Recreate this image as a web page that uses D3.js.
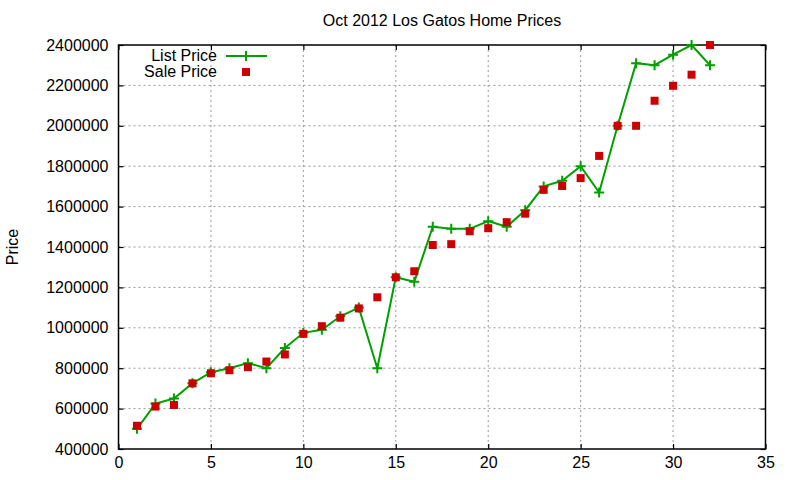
<!DOCTYPE html>
<html>
<head>
<meta charset="utf-8">
<script src="https://cdn.jsdelivr.net/npm/d3@7"></script>
<style>
  body { margin: 0; background: #fff; }
  text { font-family: "Liberation Sans", Arial, sans-serif; fill: #000; }
</style>
</head>
<body>
<div class="container"></div>
<script>
// values
let houses = d3.range(1, 33)
let listPrice = [500000, 625000, 650000, 725000, 780000, 800000, 825000, 800000, 900000, 975000,
                 990000, 1057000, 1100000, 800000, 1250000, 1228000, 1500000, 1490000, 1490000, 1528000,
                 1500000, 1582000, 1700000, 1728000, 1800000, 1670000, 2000000, 2310000, 2300000, 2352000,
                 2400000, 2300000]
let salePrice = [515000, 610000, 618000, 725000, 775000, 790000, 805000, 833000, 868000, 970000,
                 1008000, 1050000, 1096000, 1151000, 1250000, 1280000, 1410000, 1414000, 1478000, 1493000,
                 1523000, 1565000, 1683000, 1702000, 1741000, 1851000, 2000000, 2000000, 2124000, 2198000,
                 2253000, 2400000]
let xTicks = [0, 5, 10, 15, 20, 25, 30, 35]
let yTicks = [400000, 600000, 800000, 1000000, 1200000, 1400000, 1600000, 1800000, 2000000, 2200000, 2400000]

const width = 800
const height = 480
const mLeft = 118.5, mRight = 765.5, mTop = 45, mBottom = 449
const green = "#00a000"
const red = "#cc0000"

const x = d3.scaleLinear().domain([0, 35]).range([mLeft, mRight])
const y = d3.scaleLinear().domain([400000, 2400000]).range([mBottom, mTop])

const svg = d3.select(".container").append("svg")
    .attr("width", width)
    .attr("height", height)

// grid
svg.append("g")
    .selectAll("line")
    .data(xTicks.slice(1, -1))
    .enter()
    .append("line")
    .attr("x1", d => x(d)).attr("x2", d => x(d))
    .attr("y1", mTop).attr("y2", mBottom)
    .attr("stroke", "#999").attr("stroke-dasharray", "2,3")

svg.append("g")
    .selectAll("line")
    .data(yTicks.slice(1, -1))
    .enter()
    .append("line")
    .attr("x1", mLeft).attr("x2", mRight)
    .attr("y1", d => y(d)).attr("y2", d => y(d))
    .attr("stroke", "#999").attr("stroke-dasharray", "2,3")

// axes, ticks pointing inward like gnuplot
svg.append("g")
    .attr("id", "x-axis")
    .attr("transform", `translate(0,${mBottom})`)
    .call(d3.axisBottom(x).tickValues(xTicks).tickSize(-5).tickPadding(8).tickFormat(d3.format("d")))
svg.append("g")
    .attr("transform", `translate(0,${mTop})`)
    .call(d3.axisTop(x).tickValues(xTicks).tickSize(-5).tickFormat(""))
svg.append("g")
    .attr("id", "y-axis")
    .attr("transform", `translate(${mLeft},0)`)
    .call(d3.axisLeft(y).tickValues(yTicks).tickSize(-5).tickPadding(10).tickFormat(d3.format("d")))
svg.append("g")
    .attr("transform", `translate(${mRight},0)`)
    .call(d3.axisRight(y).tickValues(yTicks).tickSize(-5).tickFormat(""))

svg.selectAll(".domain").remove()
svg.selectAll(".tick line").attr("stroke", "#000").attr("stroke-width", 1.2)
svg.selectAll(".tick text").style("font-size", "16px").style("font-family", "Liberation Sans, Arial, sans-serif")

svg.append("rect")
    .attr("x", mLeft).attr("y", mTop)
    .attr("width", mRight - mLeft).attr("height", mBottom - mTop)
    .attr("fill", "none").attr("stroke", "#000").attr("stroke-width", 1.5)

// list price line
const line = d3.line()
    .x((d, i) => x(houses[i]))
    .y(d => y(d))

svg.append("path")
    .datum(listPrice)
    .attr("d", line)
    .attr("fill", "none")
    .attr("stroke", green)
    .attr("stroke-width", 2)

svg.selectAll(".plus")
    .data(listPrice)
    .enter()
    .append("path")
    .attr("class", "plus")
    .attr("d", "M-5,0H5M0,-5V5")
    .attr("transform", (d, i) => `translate(${x(houses[i])},${y(d)})`)
    .attr("stroke", green)
    .attr("stroke-width", 2)

// sale price squares
svg.selectAll(".sq")
    .data(salePrice)
    .enter()
    .append("rect")
    .attr("class", "sq")
    .attr("x", (d, i) => x(houses[i]) - 4)
    .attr("y", d => y(d) - 4)
    .attr("width", 8).attr("height", 8)
    .attr("fill", red)

// title and label
svg.append("text")
    .attr("x", (mLeft + mRight) / 2).attr("y", 26)
    .attr("text-anchor", "middle")
    .style("font-size", "16px")
    .text("Oct 2012 Los Gatos Home Prices")

svg.append("text")
    .attr("transform", "translate(18,247) rotate(-90)")
    .attr("text-anchor", "middle")
    .style("font-size", "16px")
    .text("Price")

// legend
const legend = svg.append("g")
legend.append("text").attr("x", 217).attr("y", 61).attr("text-anchor", "end")
    .style("font-size", "16px").text("List Price")
legend.append("path").attr("d", "M226,56H267M246,51V61").attr("stroke", green).attr("stroke-width", 2)
legend.append("text").attr("x", 217).attr("y", 77).attr("text-anchor", "end")
    .style("font-size", "16px").text("Sale Price")
legend.append("rect").attr("x", 242).attr("y", 68).attr("width", 8).attr("height", 8).attr("fill", red)
</script>
</body>
</html>
